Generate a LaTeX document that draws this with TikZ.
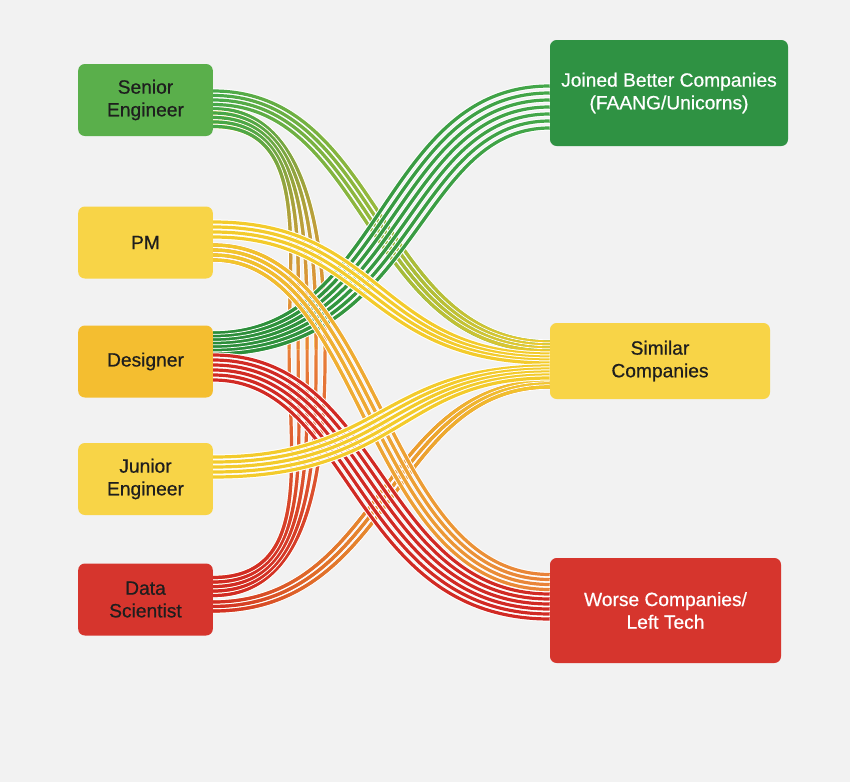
\documentclass[tikz,border=0pt]{standalone}
\usepackage{fontspec}
\setmainfont{Liberation Sans}[FakeBold=0.6]
\usetikzlibrary{calc,fadings}

\definecolor{paper}{HTML}{F2F2F2}
\definecolor{ink}{HTML}{1E1E1E}
\definecolor{boxgreen}{HTML}{5AAF4B}
\definecolor{boxdkgreen}{HTML}{2F9243}
\definecolor{boxyellow}{HTML}{F8D447}
\definecolor{boxorange}{HTML}{F4BE30}
\definecolor{boxred}{HTML}{D6352D}
\definecolor{greenline}{HTML}{45A84A}
\definecolor{dkgreenline}{HTML}{2A8C3A}
\definecolor{yellowline}{HTML}{F3CB2C}
\definecolor{orangeline}{HTML}{E9813A}
\definecolor{redline}{HTML}{D12A24}

\tikzfading[name=toright, left color=transparent!100, right color=transparent!0]
\tikzfading[name=keepleft, left color=transparent!0, middle color=transparent!100, right color=transparent!100]
\tikzfading[name=keepright, left color=transparent!100, middle color=transparent!100, right color=transparent!0]
\tikzfading[name=keeptop, top color=transparent!0, middle color=transparent!100, bottom color=transparent!100]
\tikzfading[name=keepbottom, top color=transparent!100, middle color=transparent!100, bottom color=transparent!0]

\tikzset{
  role/.style={rectangle, rounded corners=5pt, minimum width=101pt, minimum height=54pt,
    inner sep=2pt, align=center, text=ink},
  outcome/.style={role, text=white},
  flow/.style={line width=2.4pt, preaction={draw=white, line width=3.9pt}},
  tint/.style 2 args={postaction={draw=#1, path fading=#2}},
}

\begin{document}
\begin{tikzpicture}[x=0.75pt,y=-0.75pt,font=\fontsize{14.4}{17}\selectfont]
  \useasboundingbox (0,0) rectangle (850,782);
  \fill[paper] (0,0) rectangle (850,782);
  \def\k{170}

  \node[role,fill=boxgreen] (senior) at (145.5,100) {Senior\\Engineer};
  \node[role,fill=boxyellow] (pm) at (145.5,242.5) {PM};
  \node[role,fill=boxorange] (designer) at (145.5,361.5) {Designer};
  \node[role,fill=boxyellow] (junior) at (145.5,479) {Junior\\Engineer};
  \node[role,fill=boxred] (datasci) at (145.5,599.5) {Data\\Scientist};

  \node[outcome,fill=boxdkgreen,minimum width=178.5pt,minimum height=79.5pt] (better) at (669,93) {Joined Better Companies\\(FAANG/Unicorns)};
  \node[role,fill=boxyellow,minimum width=165pt,minimum height=57pt] (similar) at (660,361) {Similar\\Companies};
  \node[outcome,fill=boxred,minimum width=173.25pt,minimum height=78.75pt] (worse) at (665.5,610.5) {Worse Companies/\\Left Tech};

  % senior engineer round the back to data scientist
  \foreach \i in {0,...,4}{
    \coordinate (bend) at ($(senior.east)!.5!(datasci.east)+(112-9*\i,0)$);
    \draw[flow,yellowline,tint={greenline}{keeptop},tint={orangeline}{keepbottom}]
      ($(senior.east)+(0,8.5+4.5*\i)$) .. controls +(95,0) and +(0,-110) .. (bend);
    \draw[flow,orangeline,tint={redline}{keepbottom}]
      (bend) .. controls +(0,110) and +(100,0) .. ($(datasci.east)+(0,-4-4.5*\i)$);
  }
  % senior engineer to similar
  \foreach \i in {0,...,3}
    \draw[flow,greenline,tint={yellowline}{toright}]
      ($(senior.east)+(0,-9+4.5*\i)$) .. controls +(\k-5*\i,0) and +(-\k-5*\i,0) .. ($(similar.west)+(0,-19+3*\i)$);
  % designer to better
  \foreach \i in {0,...,6}
    \draw[flow,greenline,tint={dkgreenline}{keepleft}]
      ($(designer.east)+(0,-28.5+3.5*\i)$) .. controls +(\k+6*\i,0) and +(-\k+6*\i,0) .. ($(better.west)+(0,-7+7*\i)$);
  % data scientist to similar
  \foreach \i in {0,1,2}
    \draw[flow,orangeline,tint={redline}{keepleft},tint={yellowline}{keepright}]
      ($(datasci.east)+(0,2.5+4.5*\i)$) .. controls +(\k+6*\i,0) and +(-\k+6*\i,0) .. ($(similar.west)+(0,20+3*\i)$);
  % designer to worse
  \foreach \i in {0,...,5}
    \draw[flow,redline]
      ($(designer.east)+(0,-6.5+5*\i)$) .. controls +(\k-6*\i,0) and +(-\k-6*\i,0) .. ($(worse.west)+(0,-16.5+5*\i)$);
  % pm to worse
  \foreach \i in {0,...,3}
    \draw[flow,orangeline,tint={yellowline}{keepleft}]
      ($(pm.east)+(0,2.5+5*\i)$) .. controls +(\k-6*\i,0) and +(-\k-6*\i,0) .. ($(worse.west)+(0,-36+5*\i)$);
  % pm to similar
  \foreach \i in {0,...,3}
    \draw[flow,yellowline]
      ($(pm.east)+(0,-20.5+5*\i)$) .. controls +(\k-5*\i,0) and +(-\k-5*\i,0) .. ($(similar.west)+(0,-7+3*\i)$);
  % junior engineer to similar
  \foreach \i in {0,...,4}
    \draw[flow,yellowline]
      ($(junior.east)+(0,-22+5*\i)$) .. controls +(\k+5*\i,0) and +(-\k+5*\i,0) .. ($(similar.west)+(0,5+3*\i)$);
\end{tikzpicture}
\end{document}
